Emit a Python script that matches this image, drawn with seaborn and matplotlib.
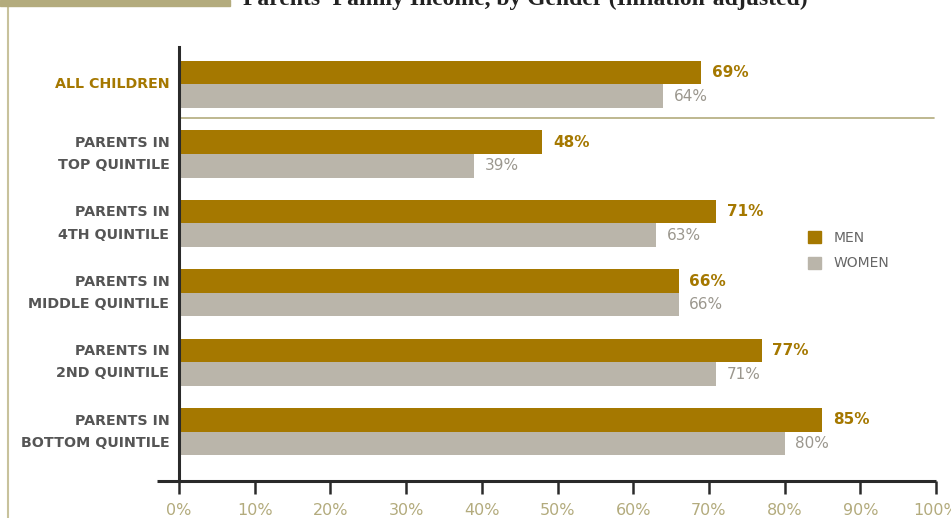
import matplotlib
matplotlib.use("Agg")
import matplotlib.pyplot as plt
import seaborn as sns
import pandas as pd
from matplotlib.patches import Rectangle
from matplotlib.lines import Line2D

categories = ["ALL CHILDREN", "PARENTS IN\nTOP QUINTILE", "PARENTS IN\n4TH QUINTILE",
              "PARENTS IN\nMIDDLE QUINTILE", "PARENTS IN\n2ND QUINTILE", "PARENTS IN\nBOTTOM QUINTILE"]
men = [69, 48, 71, 66, 77, 85]
women = [64, 39, 63, 66, 71, 80]
series = ["MEN", "WOMEN"]
xticks = [0, 10, 20, 30, 40, 50, 60, 70, 80, 90, 100]
xtick_labels = [f"{t}%" for t in xticks]
title = "Parents' Family Income, by Gender (Inflation-adjusted)"

GOLD = "#a57800"
GRAY = "#bab5aa"
KHAKI = "#b3ab7d"
TXT = "#555555"

df = pd.DataFrame({
    "category": categories * 2,
    "value": men + women,
    "gender": [series[0]] * len(men) + [series[1]] * len(women),
})

sns.set_style("white")
plt.rcParams['font.family'] = ['DejaVu Sans']

fig = plt.figure(figsize=(9.51, 5.18), dpi=100)
ax = fig.add_axes([179/951, 1-481/518, (936-179)/951, (481-47)/518])

sns.barplot(data=df, y="category", x="value", hue="gender", order=categories,
            hue_order=series, palette=[GOLD, GRAY], orient="h", width=0.68, gap=0,
            saturation=1, ax=ax, legend=True, linewidth=0, edgecolor="none")

ax.set_xlim(0, 100)
ax.set_ylim(5.71, -0.54)
ax.set_xlabel("")
ax.set_ylabel("")

for s in ["top", "right", "bottom"]:
    ax.spines[s].set_visible(False)
ax.spines["left"].set_color("#2a2a2a")
ax.spines["left"].set_linewidth(2.2)

# bottom axis line extending left past axis
ax.plot([-2.9, 100], [5.71, 5.71], color="#2a2a2a", lw=2.2, clip_on=False, solid_capstyle="butt")

ax.set_xticks(xticks)
ax.set_xticklabels(xtick_labels, color=KHAKI, fontsize=11.5)
ax.tick_params(axis="x", length=9, width=1.8, color="#2a2a2a", pad=7, direction="out", bottom=True)
ax.tick_params(axis="y", length=0, pad=7)
ax.set_yticks(range(len(categories)))
ax.set_yticklabels(categories, fontsize=10.3, fontweight="bold", color=TXT, linespacing=1.75)
for lab in ax.get_yticklabels():
    lab.set_va("center")
ax.get_yticklabels()[0].set_color(GOLD)

# separator line
ax.plot([0, 99.7], [0.483, 0.483], color=KHAKI, lw=1.2, clip_on=False)

# value labels
bw = 0.34
for i, (m, w) in enumerate(zip(men, women)):
    ax.text(m + 1.4, i - bw/2, f"{m}%", va="center", ha="left", color=GOLD,
            fontsize=11, fontweight="bold")
    ax.text(w + 1.4, i + bw/2, f"{w}%", va="center", ha="left", color="#9b978e",
            fontsize=11)

# legend
handles = [Rectangle((0, 0), 1, 1, color=GOLD), Rectangle((0, 0), 1, 1, color=GRAY)]
ax.legend(handles, series, loc="upper left", bbox_to_anchor=(795/951, 1-218/518),
          bbox_transform=fig.transFigure, frameon=False, handlelength=0.95, handleheight=0.95,
          handletextpad=0.9, labelspacing=0.85, prop={"size": 10}, labelcolor="#666666")

# decorations
fig.patches.append(Rectangle((0, 1-6/518), 230/951, 6/518, transform=fig.transFigure,
                             color=KHAKI, zorder=5))
fig.lines.append(Line2D([8/951, 8/951], [0, 1], transform=fig.transFigure, color="#c8c29c", lw=1.5))
fig.text(243/951, 1-5/518, title, ha="left", va="baseline", fontsize=17, fontweight="bold",
         family="Liberation Serif", color="#222222")

fig.savefig("out.png", dpi=100)
